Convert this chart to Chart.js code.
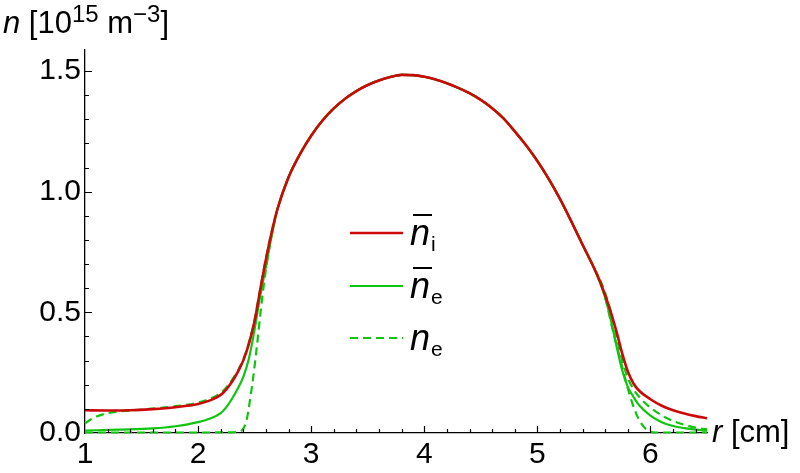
<!DOCTYPE html>
<html lang="en">
<head>
<meta charset="UTF-8">
<title>density profile</title>
<script src="https://cdn.jsdelivr.net/npm/chart.js@4"></script>
<style>
  html, body { margin: 0; padding: 0; background: #fff; }
</style>
<script>
// radius [cm] and density [1e15 m^-3]

// shared hump, all curves lie on top of each other here
var coreR = [2.7, 2.8, 2.9, 3.0, 3.1, 3.2, 3.3, 3.4, 3.5, 3.6, 3.7, 3.8, 3.9, 4.0, 4.1, 4.2, 4.3, 4.4, 4.5, 4.6, 4.7, 4.8, 4.9, 5.0, 5.1, 5.2, 5.3, 5.4, 5.5];
var coreN = [0.925, 1.06, 1.155, 1.232, 1.295, 1.345, 1.385, 1.417, 1.442, 1.461, 1.475, 1.484, 1.483, 1.476, 1.465, 1.449, 1.43, 1.408, 1.38, 1.346, 1.304, 1.25, 1.192, 1.127, 1.053, 0.97, 0.877, 0.78, 0.685];

// ion density (red)
var ionLeftR  = [1.0, 1.2, 1.4, 1.6, 1.8, 2.0, 2.1, 2.2, 2.25, 2.3, 2.35, 2.4, 2.45, 2.5, 2.55, 2.6, 2.65];
var ionLeftN  = [0.094, 0.093, 0.094, 0.099, 0.107, 0.12, 0.134, 0.158, 0.181, 0.212, 0.252, 0.301, 0.37, 0.465, 0.595, 0.72, 0.83];
var ionRightR = [5.55, 5.6, 5.65, 5.7, 5.75, 5.8, 5.85, 5.9, 6.0, 6.1, 6.2, 6.3, 6.4, 6.5];
var ionRightN = [0.632, 0.57, 0.5, 0.42, 0.33, 0.255, 0.205, 0.175, 0.14, 0.113, 0.094, 0.081, 0.07, 0.061];

// averaged electron density (green solid)
var elLeftR  = [1.0, 1.3, 1.6, 1.8, 2.0, 2.1, 2.2, 2.25, 2.3, 2.35, 2.4, 2.45, 2.5, 2.55, 2.6, 2.65];
var elLeftN  = [0.010, 0.014, 0.019, 0.028, 0.045, 0.059, 0.082, 0.107, 0.142, 0.183, 0.233, 0.31, 0.43, 0.57, 0.69, 0.815];
var elRightR = [5.55, 5.6, 5.65, 5.7, 5.75, 5.8, 5.85, 5.9, 6.0, 6.1, 6.2, 6.3, 6.4, 6.5];
var elRightN = [0.628, 0.56, 0.468, 0.36, 0.26, 0.19, 0.15, 0.115, 0.072, 0.045, 0.029, 0.02, 0.014, 0.01];

// electron density at two instants (green dashed)
var neALeftR  = [1.0, 1.05, 1.1, 1.2, 1.3, 1.5, 1.8, 2.0, 2.1, 2.2, 2.25, 2.3, 2.35, 2.4, 2.45, 2.5, 2.55, 2.6, 2.65];
var neALeftN  = [0.04, 0.056, 0.068, 0.082, 0.089, 0.097, 0.111, 0.126, 0.141, 0.166, 0.189, 0.22, 0.258, 0.306, 0.376, 0.47, 0.6, 0.725, 0.835];
var neARightR = [5.55, 5.6, 5.65, 5.7, 5.75, 5.8, 5.85, 5.9, 6.0, 6.1, 6.2, 6.3, 6.4, 6.5];
var neARightN = [0.64, 0.58, 0.5, 0.4, 0.3, 0.228, 0.182, 0.15, 0.105, 0.073, 0.05, 0.034, 0.022, 0.015];

var neBLeftR  = [1.0, 1.5, 2.0, 2.3, 2.36, 2.4, 2.43, 2.46, 2.49, 2.52, 2.55, 2.58, 2.62, 2.66];
var neBLeftN  = [0.002, 0.002, 0.002, 0.003, 0.006, 0.018, 0.055, 0.14, 0.24, 0.36, 0.49, 0.61, 0.74, 0.845];
var neBRightR = [5.55, 5.6, 5.66, 5.72, 5.78, 5.84, 5.9, 5.97, 6.05, 6.5];
var neBRightN = [0.63, 0.56, 0.44, 0.33, 0.22, 0.123, 0.054, 0.012, 0.002, 0.002];

var xTicks = [1, 2, 3, 4, 5, 6];
var yTicks = [0, 0.5, 1.0, 1.5];

var red = 'rgb(204, 8, 8)';
var green = 'rgb(16, 196, 16)';
var baseFont = '"Liberation Sans", Arial, sans-serif';
</script>
</head>
<body>
<canvas id="profile" width="800" height="473"></canvas>
<script>

function points(rs, ns) {
  var out = [];
  for (var i = 0; i < rs.length; i++) out.push({x: rs[i], y: ns[i]});
  return out;
}

function profile(lr, ln, rr, rn) {
  return points(lr, ln).concat(points(coreR, coreN), points(rr, rn));
}

function makeSet(data, color, width, dash) {
  return {
    data: data,
    borderColor: color,
    borderWidth: width,
    borderDash: dash,
    fill: false,
    pointRadius: 0,
    cubicInterpolationMode: 'monotone',
    clip: false,
  };
}

// draws text pieces left to right (for superscripts), returns end x
function drawParts(ctx, x, y, parts) {
  parts.forEach(function(p) {
    ctx.font = p.font;
    ctx.fillText(p.t, x, y + (p.dy || 0));
    x += ctx.measureText(p.t).width;
  });
  return x;
}

var decor = {
  id: 'decor',
  afterDraw: function(chart) {
    var ctx = chart.ctx;
    var xs = chart.scales.x, ys = chart.scales.y;
    var a = chart.chartArea;
    ctx.save();

    // inward ticks, Mathematica style
    ctx.strokeStyle = '#000';
    ctx.lineWidth = 1.2;
    ctx.beginPath();
    for (var i = 1; i <= 27; i++) {
      var px = Math.round(xs.getPixelForValue(1 + i * 0.2)) + 0.5;
      var len = (i % 5 == 0) ? 7 : 4;
      ctx.moveTo(px, a.bottom);
      ctx.lineTo(px, a.bottom - len);
    }
    for (var j = 1; j <= 15; j++) {
      var py = Math.round(ys.getPixelForValue(j * 0.1)) + 0.5;
      var l2 = (j % 5 == 0) ? 7 : 4;
      ctx.moveTo(a.left, py);
      ctx.lineTo(a.left + l2, py);
    }
    ctx.stroke();

    // axis titles
    ctx.fillStyle = '#000';
    ctx.textBaseline = 'alphabetic';
    ctx.textAlign = 'left';
    var big = '31px ' + baseFont, sup = '24px ' + baseFont, it = 'italic 31px ' + baseFont;
    drawParts(ctx, 3, 33, [
      {t: 'n', font: it}, {t: ' [10', font: big}, {t: '15', font: sup, dy: -11},
      {t: ' m', font: big}, {t: '\u22123', font: sup, dy: -11}, {t: ']', font: big}
    ]);
    drawParts(ctx, 712, 442, [{t: 'r', font: it}, {t: ' [cm]', font: big}]);

    // legend
    var entries = [
      {y: 233, color: red, dash: [], sub: 'i', bar: true},
      {y: 286, color: green, dash: [], sub: 'e', bar: true},
      {y: 338, color: green, dash: [8, 5], sub: 'e', bar: false}
    ];
    entries.forEach(function(e) {
      ctx.strokeStyle = e.color;
      ctx.lineWidth = e.color == red ? 2.6 : 2.2;
      ctx.setLineDash(e.dash);
      ctx.beginPath();
      ctx.moveTo(350, e.y);
      ctx.lineTo(403, e.y);
      ctx.stroke();
      ctx.setLineDash([]);
      ctx.font = 'italic 36px ' + baseFont;
      ctx.fillText('n', 410, e.y + 12);
      var w = ctx.measureText('n').width;
      if (e.bar) {
        ctx.strokeStyle = '#000';
        ctx.lineWidth = 2;
        ctx.beginPath();
        ctx.moveTo(413, e.y - 18);
        ctx.lineTo(412 + w, e.y - 18);
        ctx.stroke();
      }
      ctx.font = '21px ' + baseFont;
      ctx.fillText(e.sub, 410 + w + 1, e.y + 18);
    });
    ctx.restore();
  }
};

var config = {
  type: 'line',
  data: {
    datasets: [
      makeSet(profile(ionLeftR, ionLeftN, ionRightR, ionRightN), red, 2.6, []),
      makeSet(profile(elLeftR, elLeftN, elRightR, elRightN), green, 2.2, []),
      makeSet(profile(neALeftR, neALeftN, neARightR, neARightN), green, 2.2, [8, 5]),
      makeSet(profile(neBLeftR, neBLeftN, neBRightR, neBRightN), green, 2.2, [8, 5]),
    ],
  },
  options: {
    responsive: false,
    animation: false,
    layout: { padding: { left: 0, right: 93, top: 50, bottom: 0 } },
    plugins: {
      legend: { display: false },
      tooltip: { enabled: false },
    },
    scales: {
      x: {
        type: 'linear',
        min: 1,
        max: 6.5,
        grid: { display: false, drawTicks: false },
        border: { display: true, color: '#000', width: 1.3 },
        afterBuildTicks: function(s) { s.ticks = xTicks.map(function(v) { return {value: v}; }); },
        afterFit: function(s) { s.height = 40; },
        ticks: {
          color: '#000',
          padding: 4,
          maxRotation: 0,
          autoSkip: false,
          font: { family: baseFont, size: 30 },
          callback: function(v) { return String(v); },
        },
      },
      y: {
        type: 'linear',
        min: 0,
        max: 1.587,
        grid: { display: false, drawTicks: false },
        border: { display: true, color: '#000', width: 1.3 },
        afterBuildTicks: function(s) { s.ticks = yTicks.map(function(v) { return {value: v}; }); },
        afterFit: function(s) { s.width = 85; },
        ticks: {
          color: '#000',
          padding: 4,
          autoSkip: false,
          font: { family: baseFont, size: 30 },
          callback: function(v) { return v.toFixed(1); },
        },
      },
    },
  },
  plugins: [decor],
};

window.onload = function() {
  var ctx = document.getElementById('profile').getContext('2d');
  window.myChart = new Chart(ctx, config);
};
</script>
</body>
</html>
